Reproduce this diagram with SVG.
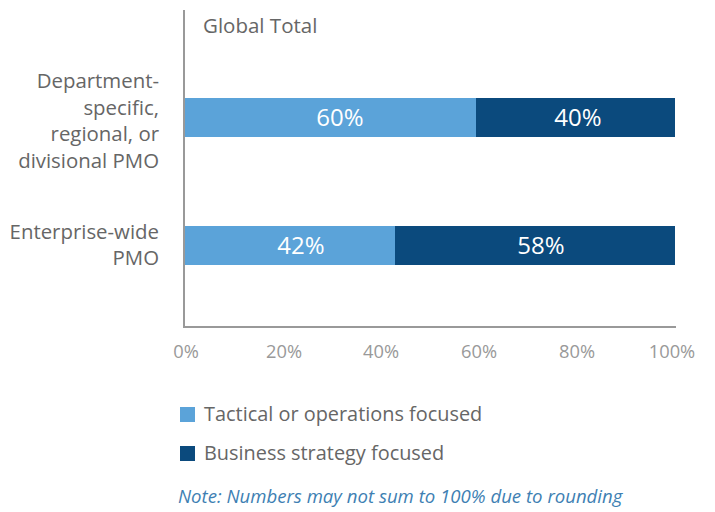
<svg xmlns="http://www.w3.org/2000/svg" width="715" height="512" viewBox="0 0 715 512">
<style>
text{font-family:"Open Sans","Noto Sans","Liberation Sans",sans-serif;}
.lbl{fill:#666666;font-size:20.4px;text-anchor:end;}
.tick{fill:#999999;font-size:18.3px;text-anchor:middle;}
.val{fill:#ffffff;font-size:24px;text-anchor:middle;}
.leg{fill:#666666;font-size:19.9px;}
.light{fill:#5ba3d9;}
.dark{fill:#0b4a7d;}
.axis{stroke:#999999;stroke-width:2;fill:none;}
</style>
<rect width="715" height="512" fill="#ffffff"/>
<g id="axes">
<line class="axis" x1="184" y1="10" x2="184" y2="328"/>
<line class="axis" x1="183" y1="327" x2="676" y2="327"/>
</g>
<text x="203" y="33" fill="#666666" style="font-size:20.5px">Global Total</text>
<g id="cat1">
<text class="lbl" x="159" y="88">Department-</text>
<text class="lbl" x="159" y="115">specific,</text>
<text class="lbl" x="159" y="141">regional, or</text>
<text class="lbl" x="159" y="168">divisional PMO</text>
</g>
<g id="cat2">
<text class="lbl" x="159" y="239">Enterprise-wide</text>
<text class="lbl" x="159" y="265">PMO</text>
</g>
<g id="bar1">
<rect class="light" x="185" y="98" width="291" height="39"/>
<rect class="dark" x="476" y="98" width="199" height="39"/>
<text class="val" x="340" y="126">60%</text>
<text class="val" x="578" y="126">40%</text>
</g>
<g id="bar2">
<rect class="light" x="185" y="226" width="210" height="39"/>
<rect class="dark" x="395" y="226" width="280" height="39"/>
<text class="val" x="301" y="254">42%</text>
<text class="val" x="541" y="254">58%</text>
</g>
<g id="ticks">
<text class="tick" x="186" y="358">0%</text>
<text class="tick" x="284" y="358">20%</text>
<text class="tick" x="381" y="358">40%</text>
<text class="tick" x="479" y="358">60%</text>
<text class="tick" x="577" y="358">80%</text>
<text class="tick" x="672" y="358">100%</text>
</g>
<g id="legend">
<rect class="light" x="180" y="407" width="15" height="15"/>
<text class="leg" x="204" y="421">Tactical or operations focused</text>
<rect class="dark" x="180" y="446" width="15" height="15"/>
<text class="leg" x="204" y="460">Business strategy focused</text>
</g>
<text x="178" y="503" fill="#3e7fb3" font-style="italic" style="font-size:18.6px">Note: Numbers may not sum to 100% due to rounding</text>
</svg>
